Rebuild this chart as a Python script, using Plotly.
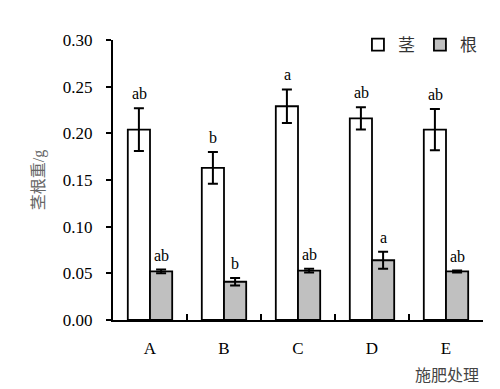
import plotly.graph_objects as go

categories = ["A", "B", "C", "D", "E"]
stem = [0.204, 0.163, 0.229, 0.216, 0.204]
stem_err = [0.023, 0.017, 0.018, 0.012, 0.022]
root = [0.052, 0.041, 0.053, 0.064, 0.052]
root_err = [0.002, 0.004, 0.002, 0.009, 0.001]
stem_sig = ["ab", "b", "a", "ab", "ab"]
root_sig = ["ab", "b", "ab", "a", "ab"]
yticks = [0.0, 0.05, 0.10, 0.15, 0.20, 0.25, 0.30]

SERIF = "'Liberation Serif', 'Times New Roman', serif"
CJK = "'Liberation Serif', 'Noto Sans CJK SC', serif"

fig = go.Figure()
fig.add_trace(go.Bar(
    x=categories, y=stem, name="茎",
    marker=dict(color="white", line=dict(color="black", width=1.8)),
    error_y=dict(type="data", array=stem_err, color="black", thickness=2, width=5),
))
fig.add_trace(go.Bar(
    x=categories, y=root, name="根",
    marker=dict(color="#c0c0c0", line=dict(color="black", width=1.8)),
    error_y=dict(type="data", array=root_err, color="black", thickness=2, width=5),
))

# significance letters above error bars
for i, c in enumerate(categories):
    fig.add_annotation(x=c, y=stem[i] + stem_err[i], text=stem_sig[i], showarrow=False,
                       xshift=-11, yshift=4, yanchor="bottom",
                       font=dict(family=SERIF, size=16, color="black"))
    fig.add_annotation(x=c, y=root[i] + root_err[i], text=root_sig[i], showarrow=False,
                       xshift=11, yshift=4, yanchor="bottom",
                       font=dict(family=SERIF, size=16, color="black"))

fig.add_annotation(xref="paper", yref="paper", x=0.995, y=-0.16, text="施肥处理",
                   showarrow=False, xanchor="right", yanchor="top",
                   font=dict(family=CJK, size=16, color="#444444"))

# page body has an 8px margin: figure is 492x381 so it fits the 500x389 window
fig.update_layout(
    width=492, height=381,
    margin=dict(l=105, r=17, t=32, b=69, autoexpand=False),
    plot_bgcolor="white", paper_bgcolor="white",
    barmode="group", bargap=0.4, bargroupgap=0.0,
    font=dict(family=SERIF, size=16, color="black"),
    showlegend=True,
    legend=dict(orientation="h", x=0.662, y=0.982, xanchor="left", yanchor="middle",
                font=dict(family=CJK, size=17, color="#333333"),
                itemwidth=30, traceorder="normal", bgcolor="rgba(0,0,0,0)"),
    xaxis=dict(type="category", tickson="boundaries", ticks="inside", ticklen=6,
               tickwidth=1.5, tickcolor="black", showline=True, linecolor="black",
               linewidth=2, showgrid=False, tickfont=dict(family=SERIF, size=17),
               ticklabelstandoff=12, automargin=False),
    yaxis=dict(range=[0, 0.30], tickvals=yticks, tickformat=".2f", ticks="outside",
               ticklen=5, tickwidth=1.5, tickcolor="black", showline=True,
               linecolor="black", linewidth=2, showgrid=False, zeroline=False,
               tickfont=dict(family=SERIF, size=17), ticklabelstandoff=10,
               automargin=False,
               title=dict(text="茎根重/g", font=dict(family=CJK, size=16, color="#666666"),
                          standoff=14)),
)

fig.write_html("out.html")
